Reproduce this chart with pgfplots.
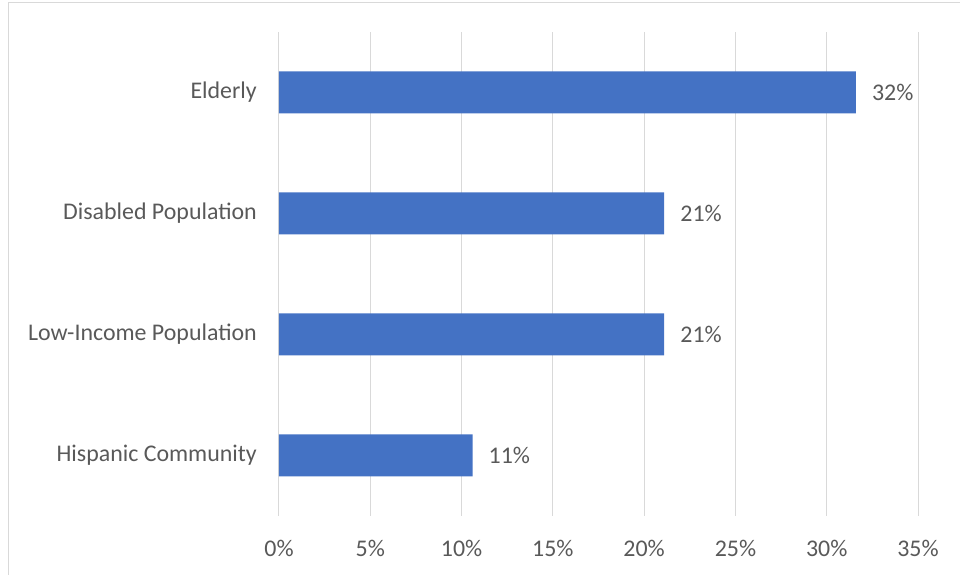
\documentclass[border=0pt]{standalone}
\usepackage{fontspec}
\setmainfont{Carlito}
\usepackage{pgfplots}
\usepackage{pgfplotstable}
\pgfplotsset{compat=1.18}

\definecolor{barblue}{HTML}{4472C4}
\definecolor{txt}{HTML}{595959}
\definecolor{gridc}{HTML}{D9D9D9}

% y = category position (0 = bottom), x = share in percent, lab = printed value
\pgfplotstableread{
y x    lab
0 10.6 11
1 21.1 21
2 21.1 21
3 31.6 32
}\shares

\begin{document}
\begin{tikzpicture}[x=1bp,y=1bp]
% axis box sits at origin; page is 960x575 around it
\useasboundingbox (-279,-59) rectangle (681,516);
\draw[gridc, line width=1bp] (-270.5,-80) -- (-270.5,513.5) -- (720,513.5);
\begin{axis}[
    scale only axis,
    width=639bp, height=484bp,
    xbar,
    bar width=42bp,
    xmin=0, xmax=35,
    ymin=-0.5, ymax=3.5,
    xtick={0,5,...,35},
    xticklabels={0\%,5\%,10\%,15\%,20\%,25\%,30\%,35\%},
    ytick={0,1,2,3},
    yticklabels={Hispanic Community,Low-Income Population,Disabled Population,Elderly},
    xmajorgrids,
    grid style={gridc, line width=1bp},
    axis line style={draw=none},
    major tick length=0pt,
    tick style={draw=none},
    font=\fontsize{23.9bp}{28bp}\selectfont,
    /pgf/number format/assume math mode=true,
    tick label style={text=txt, inner sep=0pt},
    xticklabel style={anchor=north, yshift=-24bp},
    yticklabel style={anchor=east, xshift=-22bp},
    point meta=explicit,
    nodes near coords={\pgfmathprintnumber{\pgfplotspointmeta}\%},
    every node near coord/.append style={text=txt, anchor=west, inner sep=0pt, xshift=16bp},
]
\addplot[fill=barblue, draw=none] table[x=x, y=y, meta=lab] {\shares};
\end{axis}
\end{tikzpicture}
\end{document}
